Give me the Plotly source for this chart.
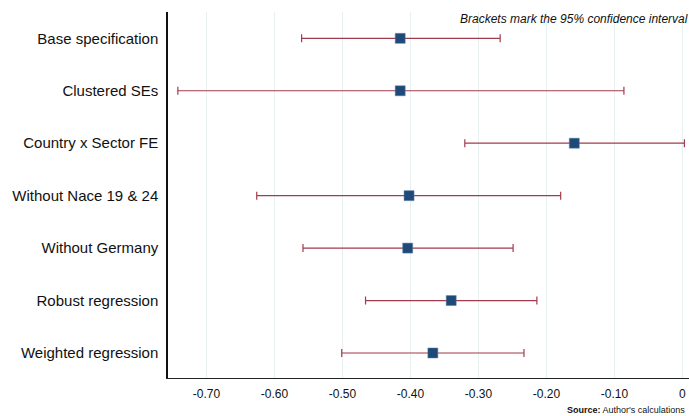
import plotly.graph_objects as go

categories = ["Base specification", "Clustered SEs", "Country x Sector FE",
              "Without Nace 19 & 24", "Without Germany", "Robust regression",
              "Weighted regression"]
estimates = [-0.415, -0.415, -0.159, -0.402, -0.404, -0.340, -0.367]
ci_low = [-0.560, -0.742, -0.320, -0.626, -0.558, -0.466, -0.501]
ci_high = [-0.268, -0.086, 0.003, -0.179, -0.249, -0.214, -0.233]
xtick_vals = [-0.7, -0.6, -0.5, -0.4, -0.3, -0.2, -0.1, 0.0]
xtick_text = ["-0.70", "-0.60", "-0.50", "-0.40", "-0.30", "-0.20", "-0.10", "0"]

ypos = list(range(len(categories)))
err_plus = [h - e for h, e in zip(ci_high, estimates)]
err_minus = [e - l for e, l in zip(estimates, ci_low)]

FONT = "Liberation Sans, Arial, sans-serif"

fig = go.Figure()
fig.add_trace(go.Scatter(
    x=estimates, y=ypos, mode="markers",
    marker=dict(symbol="square", size=10, color="#1f4a78",
                line=dict(color="#5a7ea6", width=0.5)),
    error_x=dict(type="data", symmetric=False, array=err_plus,
                 arrayminus=err_minus, color="#a23b4b", thickness=1.2, width=4),
    showlegend=False, hoverinfo="x+y",
))

fig.update_layout(
    width=689, height=416,
    margin=dict(l=168, r=0, t=12, b=38),
    paper_bgcolor="white", plot_bgcolor="white",
    font=dict(family=FONT, color="#111"),
    xaxis=dict(range=[-0.7565, 0.0097], tickvals=xtick_vals, ticktext=xtick_text,
               showgrid=True, gridcolor="#e8f1f1", gridwidth=1, zeroline=False,
               showline=True, linecolor="#222", linewidth=1, ticks="",
               tickfont=dict(size=12, color="#111", family=FONT),
               ticklabelstandoff=5),
    yaxis=dict(range=[6.477, -0.502], tickvals=ypos, ticktext=categories,
               showgrid=False, zeroline=False, showline=True, linecolor="#111",
               linewidth=1.5, ticks="", tickfont=dict(size=15, color="#111", family=FONT),
               ticklabelstandoff=5),
    annotations=[
        dict(text="<i>Brackets mark the 95% confidence interval</i>",
             xref="paper", yref="paper", x=0.556, y=0.981, xanchor="left",
             yanchor="middle", showarrow=False,
             font=dict(size=12, color="#111", family=FONT)),
        dict(text="<b>Source:</b> Author's calculations",
             xref="paper", yref="paper", x=0.996, y=-0.0874, xanchor="right",
             yanchor="middle", showarrow=False,
             font=dict(size=9, color="#111", family=FONT)),
    ],
)

fig.write_html("out.html")
